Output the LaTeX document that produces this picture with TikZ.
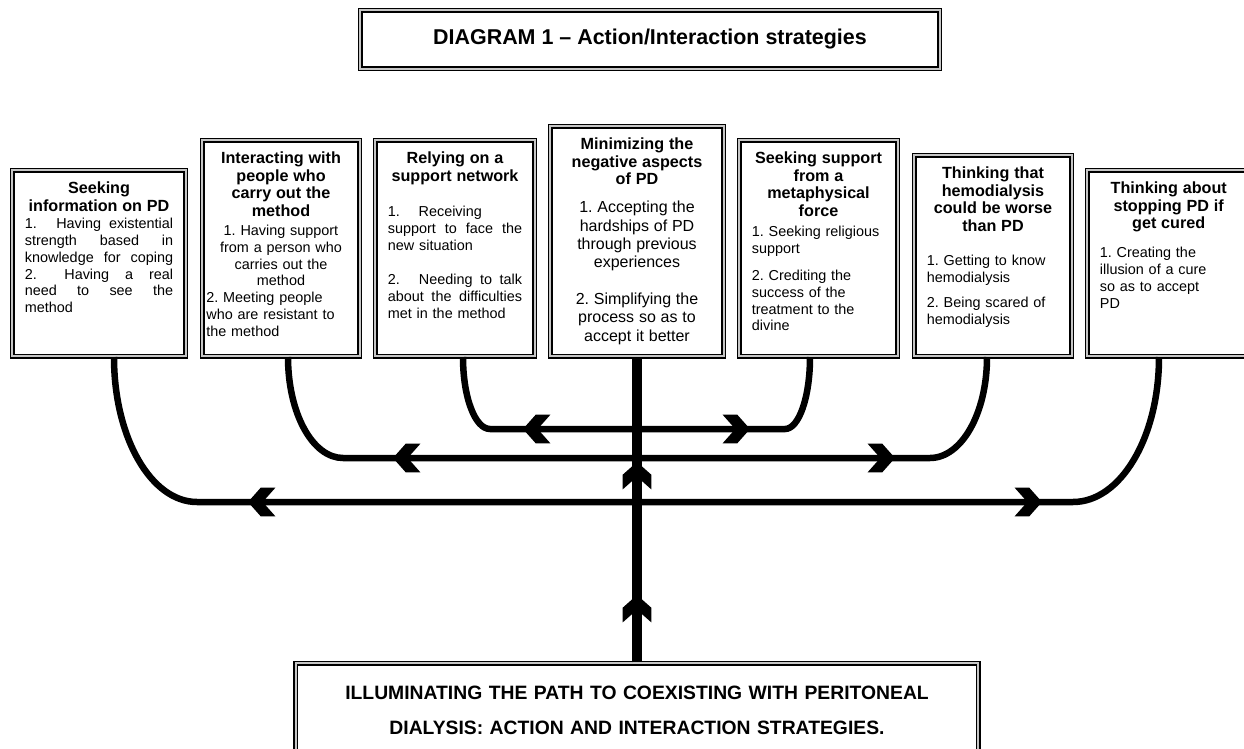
\documentclass[tikz,border=0pt]{standalone}
\usepackage{fontspec}
\setmainfont{Liberation Sans}
\usetikzlibrary{decorations.markings}
\frenchspacing

\newcommand{\boxtitle}[1]{{\bfseries\fontsize{9.2}{10.2}\selectfont #1\par}}
\newcommand{\jrow}[1]{\makebox[\linewidth][s]{\spaceskip=\fontdimen2\font plus 1fil\relax#1}}
\newcommand{\lrow}[1]{\makebox[\linewidth][l]{#1}}

\tikzset{
  framebox/.style={draw, line width=0.8pt, double=gray!45, double distance=1.2pt},
  strategy/.style={framebox, anchor=north, align=center, inner xsep=0.25cm, inner ysep=0.1cm,
    text height=0.36cm, font=\fontsize{8.2}{9.5}\selectfont},
  branch/.style={line width=0.13cm},
  spine/.style={line width=0.2cm},
  chevron at/.style={postaction={decorate, decoration={markings, mark=at position #1 with
    {\fill (0,0) -- (-0.254,0.286) -- (-0.548,0.286) -- (-0.294,0) -- (-0.548,-0.286) -- (-0.254,-0.286) -- cycle;}}}},
}

\begin{document}
\begin{tikzpicture}
    \useasboundingbox (0,0) rectangle (24.88,-14.98);

    % 表題
    \node[framebox, font=\bfseries\fontsize{12.2}{14}\selectfont, minimum width=11.584cm, minimum height=1.164cm] (T) at (13.0,-0.79) {DIAGRAM 1 – Action/Interaction strategies};

    % 戦略の枠
    \node[strategy, text width=2.964cm, text depth=3.164cm] (S1) at (1.98,-3.388) {\boxtitle{Seeking\\ information on PD}\vspace{0.7pt}\jrow{1.\hspace{0.8em} Having existential}\\ \jrow{strength based in}\\ \jrow{knowledge for coping}\\ \jrow{2.\hspace{0.8em} Having a real}\\ \jrow{need to see the}\\ \lrow{method}};
    \node[strategy, inner xsep=0.08cm, text width=2.984cm, text depth=3.764cm] (S2) at (5.62,-2.788) {\boxtitle{Interacting with\\ people who\\ carry out the\\ method}\vspace{1.3pt}1. Having support\\ from a person who\\ carries out the\\ method\par{\raggedright 2. Meeting people\\ who are resistant to\\ the method\par}};
    \node[strategy, text width=2.684cm, text depth=3.764cm] (S3) at (9.10,-2.788) {\boxtitle{Relying on a\\ support network}\vspace{10.8pt}{\raggedright 1.\hspace{1.3em}Receiving\\ \jrow{support to face the}\\ new situation\\[10.3pt] \jrow{2.\hspace{0.8em} Needing to talk}\\ \jrow{about the difficulties}\\ met in the method\par}};
    \node[strategy, text width=2.964cm, text depth=4.044cm] (S4) at (12.74,-2.508) {\boxtitle{Minimizing the\\ negative aspects\\ of PD}\vspace{5.5pt}{\fontsize{9.1}{10.4}\selectfont 1. Accepting the\\ hardships of PD\\ through previous\\ experiences\\[10.6pt] 2. Simplifying the\\ process so as to\\ accept it better\par}};
    \node[strategy, text width=2.664cm, text depth=3.764cm] (S5) at (16.37,-2.788) {\boxtitle{Seeking support\\ from a\\ metaphysical\\ force}\vspace{1.9pt}{\raggedright 1. Seeking religious\\ support\\[5.9pt] 2. Crediting the\\ success of the\\ treatment to the\\ divine\par}};
    \node[strategy, text width=2.644cm, text depth=3.464cm] (S6) at (19.86,-3.088) {\boxtitle{Thinking that\\ hemodialysis\\ could be worse\\ than PD}\vspace{9.7pt}{\raggedright 1. Getting to know\\ hemodialysis\\[5pt] 2. Being scared of\\ hemodialysis\par}};
    \node[strategy, text width=2.752cm, text depth=3.164cm] (S7) at (23.374,-3.388) {\boxtitle{Thinking about\\ stopping PD if\\ get cured}\vspace{7pt}{\raggedright 1. Creating the\\ illusion of a cure\\ so as to accept\\ PD\par}};

    % 下の枠
    \node[framebox, anchor=north, align=center, text width=13.244cm, inner xsep=0.2cm, inner ysep=0cm, text height=0.732cm, text depth=1.3cm, font=\bfseries\fontsize{11}{19.9}\selectfont] (G) at (12.74,-13.248) {ILLUMINATING THE PATH TO COEXISTING WITH PERITONEAL\\ DIALYSIS: ACTION AND INTERACTION STRATEGIES.};

    % 中心線
    \coordinate (H1) at (12.74,-8.58);
    \coordinate (H2) at (12.74,-9.16);
    \coordinate (H3) at (12.74,-10.04);
    \draw[spine, chevron at=1.348cm, chevron at=4.008cm] (G.north) -- (S4.south);

    % 枝
    \draw[branch, chevron at=2.28cm] (H1) -- ++(-2.94,0) .. controls +(-0.298,0) and +(0,-0.81) .. ([xshift=0.16cm]S3.south);
    \draw[branch, chevron at=2.26cm] (H1) -- ++(2.96,0) .. controls +(0.276,0) and +(0,-0.81) .. ([xshift=-0.17cm]S5.south);
    \draw[branch, chevron at=4.88cm] (H2) -- ++(-5.88,0) .. controls +(-0.607,0) and +(0,-1.13) .. ([xshift=0.14cm]S2.south);
    \draw[branch, chevron at=5.16cm] (H2) -- ++(5.86,0) .. controls +(0.629,0) and +(0,-1.13) .. ([xshift=-0.12cm]S6.south);
    \draw[branch, chevron at=7.78cm] (H3) -- ++(-8.80,0) .. controls +(-0.916,0) and +(0,-1.616) .. ([xshift=0.3cm]S1.south);
    \draw[branch, chevron at=8.10cm] (H3) -- ++(8.72,0) .. controls +(0.949,0) and +(0,-1.616) .. ([xshift=-0.194cm]S7.south);
\end{tikzpicture}
\end{document}
